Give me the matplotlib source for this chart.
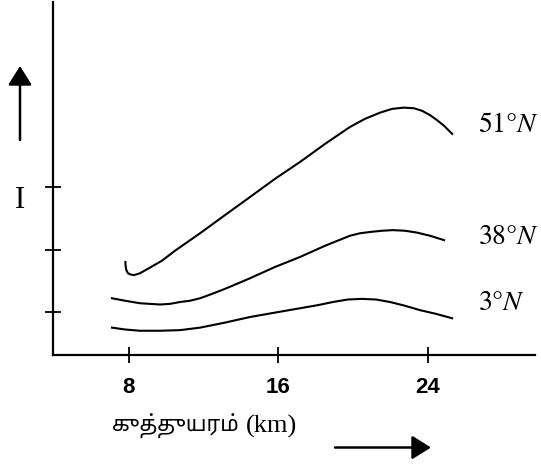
import matplotlib
matplotlib.use('Agg')
import matplotlib.pyplot as plt

plt.rcParams['mathtext.fontset'] = 'stix'

# altitude in km, intensity in arbitrary units
x_51 = [7.83, 7.84, 7.88, 7.97, 8.10, 8.29, 8.61, 9.14, 9.78, 10.48, 11.82,
        13.15, 14.49, 15.82, 17.16, 18.50, 19.83, 20.63, 21.44, 22.08, 22.72,
        23.25, 23.68, 24.11, 24.48, 24.86, 25.29]
y_51 = [1.80, 1.74, 1.67, 1.62, 1.60, 1.59, 1.62, 1.71, 1.82, 1.98, 2.26,
        2.55, 2.84, 3.13, 3.40, 3.69, 3.96, 4.09, 4.19, 4.25, 4.27,
        4.26, 4.22, 4.15, 4.07, 3.98, 3.85]

x_38 = [7.11, 7.81, 8.61, 9.14, 9.68, 10.21, 10.75, 11.28, 11.82, 12.46,
        13.15, 14.49, 15.82, 17.16, 18.50, 19.83, 20.37, 20.90, 21.54, 22.13,
        22.77, 23.42, 24.11, 24.86]
y_38 = [1.22, 1.18, 1.14, 1.13, 1.12, 1.13, 1.16, 1.18, 1.22, 1.29,
        1.37, 1.54, 1.72, 1.88, 2.06, 2.22, 2.26, 2.28, 2.30, 2.31,
        2.30, 2.27, 2.22, 2.15]

x_3 = [7.11, 7.81, 8.61, 9.68, 10.75, 11.82, 13.15, 14.49, 15.82, 17.16,
       18.12, 18.92, 19.72, 20.47, 21.22, 21.97, 22.77, 23.57, 24.43, 25.29]
y_3 = [0.75, 0.72, 0.70, 0.70, 0.71, 0.75, 0.83, 0.92, 0.99, 1.06,
       1.11, 1.16, 1.20, 1.21, 1.20, 1.16, 1.10, 1.03, 0.97, 0.90]

curves = [(x_51, y_51, '51°$N$', 3.99), (x_38, y_38, '38°$N$', 2.20),
          (x_3, y_3, '3°$N$', 1.13)]
xticks = [8, 16, 24]
yticks = [1, 2, 3]

fig = plt.figure(figsize=(5.41, 4.66), dpi=100)
ax = fig.add_axes([53/541, 1 - 354.5/466, (535-53)/541, (354.5-2)/466])

for xs, ys, lab, ly in curves:
    ax.plot(xs, ys, color='black', lw=1.5, solid_joinstyle='round')
    ax.text(26.7, ly, lab, fontsize=20, va='center', ha='left',
            family='STIXGeneral')

ax.set_xlim(3.96, 29.72)
ax.set_ylim(0.32, 5.96)
ax.spines['top'].set_visible(False)
ax.spines['right'].set_visible(False)
for s in ['left', 'bottom']:
    ax.spines[s].set_linewidth(1.6)

ax.set_xticks(xticks)
ax.set_xticklabels([str(t) for t in xticks], fontsize=16, fontweight='bold',
                   family='Liberation Sans')
ax.set_yticks(yticks)
ax.set_yticklabels([])
ax.tick_params(direction='inout', length=11, width=1.3)
ax.tick_params(axis='x', pad=11)

# axis titles
fig.text(19.5/541, 1 - 201/466, 'I', fontsize=22, ha='center', va='center',
         family='Liberation Serif')
fig.text(112/541, 1 - 426/466, 'குத்துயரம்', fontsize=15.5, ha='left',
         va='center', family=['Noto Sans Tamil', 'Lohit Tamil', 'Noto Sans',
                               'DejaVu Sans'])
fig.text(246/541, 1 - 426/466, '(km)', fontsize=19, ha='left', va='center',
         family='Liberation Serif')

# direction arrows
arr = dict(arrowstyle='-|>,head_length=0.4,head_width=0.25', color='black',
           lw=1.8, mutation_scale=29, shrinkA=0, shrinkB=0)
ax.annotate('', xy=(20, 400), xytext=(20, 326), xycoords='figure pixels',
            textcoords='figure pixels', arrowprops=arr)
ax.annotate('', xy=(431, 18.5), xytext=(335, 18.5), xycoords='figure pixels',
            textcoords='figure pixels', arrowprops=arr)

fig.savefig('out.png', dpi=100)
